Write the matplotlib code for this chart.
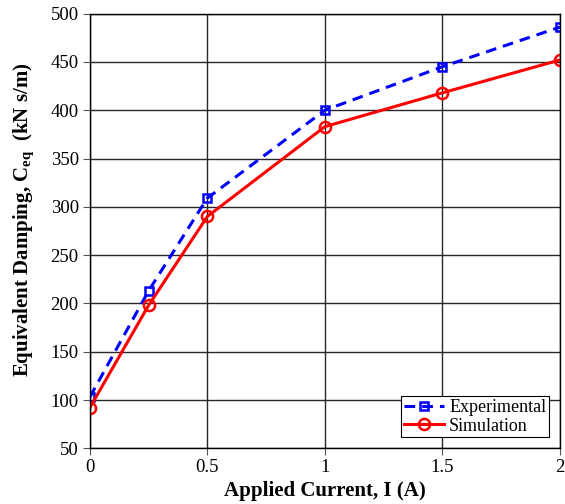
import matplotlib
matplotlib.use("Agg")
import matplotlib.pyplot as plt

plt.rcParams['font.family'] = ['Liberation Serif', 'DejaVu Serif']
plt.rcParams['mathtext.fontset'] = 'custom'
plt.rcParams['mathtext.rm'] = 'Liberation Serif'
plt.rcParams['mathtext.bf'] = 'Liberation Serif:bold'

current = [0, 0.25, 0.5, 1.0, 1.5, 2.0]
experimental = [103, 213, 309, 400, 445, 486]
simulation = [92, 198, 290, 383, 418, 452]

xticks = [0, 0.5, 1, 1.5, 2]
xticklabels = ['0', '0.5', '1', '1.5', '2']
yticks = list(range(50, 501, 50))

fig = plt.figure(figsize=(5.65, 5.04), dpi=100)
ax = fig.add_axes([0.159, 0.1105, 0.832, 0.8625])

ax.plot(current, experimental, color='#0000ff', linestyle='--', linewidth=2.2,
        marker='s', markersize=6, markerfacecolor='none', markeredgewidth=1.8,
        label='Experimental', dashes=(3.5, 2.3))
ax.plot(current, simulation, color='#ff0000', linestyle='-', linewidth=2.2,
        marker='o', markersize=8, markerfacecolor='none', markeredgewidth=1.8,
        label='Simulation')

ax.set_xlim(0, 2)
ax.set_ylim(50, 500)
ax.set_xticks(xticks)
ax.set_xticklabels(xticklabels)
ax.set_yticks(yticks)
ax.grid(True, color='#262626', linewidth=1.0)
ax.set_axisbelow(True)
ax.tick_params(direction='out', labelsize=13.5, length=5, width=0.8, pad=3,
               color='#555555')
for s in ax.spines.values():
    s.set_linewidth(1.0)

ax.set_xlabel('Applied Current, I (A)', fontsize=15, fontweight='bold', labelpad=3)
ax.set_ylabel(r'Equivalent Damping, C$_{\mathbf{eq}}$  (kN s/m)', fontsize=15,
              fontweight='bold')
ax.yaxis.set_label_coords(-0.113, 0.527)

leg = ax.legend(loc='lower right', fontsize=13, fancybox=False, framealpha=1,
                edgecolor='black', borderpad=0.15, handlelength=2.2,
                labelspacing=0.1, borderaxespad=0.6, handletextpad=0.3)
leg.get_frame().set_linewidth(0.8)

fig.savefig('out.png', dpi=100)
